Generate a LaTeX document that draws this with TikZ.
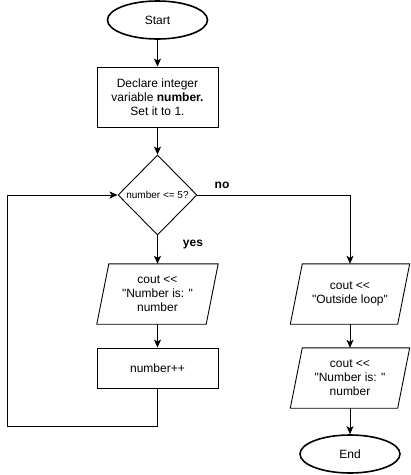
\documentclass[tikz,border=0pt]{standalone}
\usepackage{fontspec}
\setmainfont{Liberation Sans}[Ligatures=TeXOff]
\usetikzlibrary{shapes.geometric,arrows.meta,calc}
\begin{document}
\begin{tikzpicture}[x=1pt,y=-1pt,
  every node/.style={font=\fontsize{12}{14}\selectfont, align=center},
  term/.style={ellipse, draw, line width=1.6pt, minimum width=100pt, minimum height=38pt, inner sep=0pt},
  proc/.style={rectangle, draw, line width=0.9pt, minimum width=121pt, inner sep=0pt},
  dec/.style={diamond, draw, line width=0.9pt, minimum width=79pt, minimum height=80pt, inner sep=0pt, font=\fontsize{10}{12}\selectfont},
  io/.style={rectangle, minimum width=121pt, minimum height=60pt, inner sep=0pt},
  para/.style={draw, line width=0.9pt, line join=miter},
  conn/.style={line width=0.9pt, -{Stealth[length=8pt,width=7pt,inset=2pt]}},
  lbl/.style={font=\fontsize{12}{14}\selectfont\bfseries}
]
\useasboundingbox (0,0) rectangle (411,475);
\node[term] (start) at (157.5,20) {Start};
\node[proc, minimum height=60pt] (decl) at (157.5,97) {Declare integer\\variable \textbf{number.}\\Set it to 1.};
\node[dec] (cond) at (157.5,195) {number <= 5?};
\node[io] (out1) at (157.5,294) {cout <<\\"Number is: "\\number};
\node[proc, minimum height=40pt] (inc) at (157.5,368) {number++};
\node[io, minimum width=119pt] (out2) at (350,294) {cout <<\\"Outside loop"};
\node[io, minimum width=119pt] (out3) at (350,378) {cout <<\\"Number is: "\\number};
\node[term] (stop) at (350,454) {End};
\foreach \p in {out1,out2,out3}{
  \draw[para] (\p.south west) -- ($(\p.north west)+(12,0)$) -- (\p.north east) -- ($(\p.south east)+(-12,0)$) -- cycle;
}
\coordinate (lb) at (157.5,426);
\coordinate (lc) at (7,426);
\coordinate (lt) at (7,195);
\coordinate (nr) at (350,195);
\draw[conn] (start) -- (decl);
\draw[conn] (decl) -- (cond);
\draw[conn] (cond) -- (out1);
\draw[conn] (out1) -- (inc);
\draw[conn] (inc.south) -- (lb) -- (lc) -- (lt) -- (cond.west);
\draw[conn] (cond.east) -- (nr) -- (out2.north);
\draw[conn] (out2) -- (out3);
\draw[conn] (out3) -- (stop);
\node[lbl] (yes) at (193,245) {yes};
\node[lbl] (no) at (222,185) {no};
\end{tikzpicture}
\end{document}
